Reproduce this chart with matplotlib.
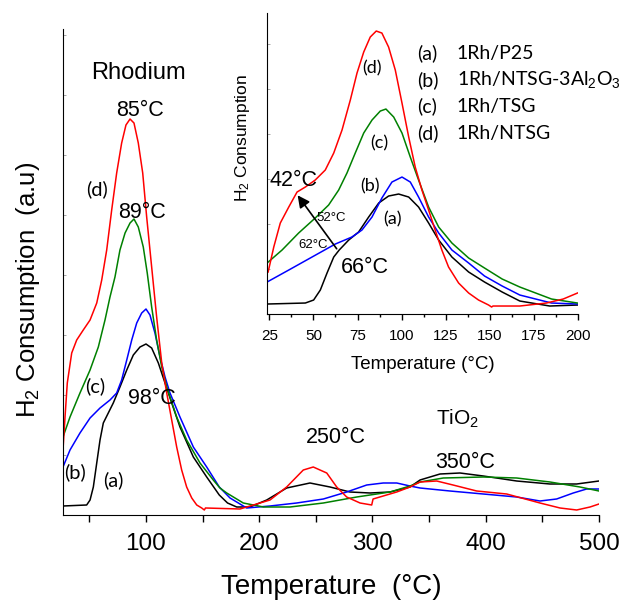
import numpy as np
import matplotlib
matplotlib.use("Agg")
import matplotlib.pyplot as plt

plt.rcParams['font.family'] = ['Liberation Sans', 'DejaVu Sans']
plt.rcParams['mathtext.fontset'] = 'custom'
plt.rcParams['mathtext.rm'] = 'Liberation Sans'
plt.rcParams['mathtext.it'] = 'Liberation Sans:italic'

# ---- main TPR curves (temperature in C, signal in arbitrary units) ----
t_a = [26.7, 47.6, 50.6, 53.5, 56.5, 59.4, 62.3, 66.7, 71.1, 77.0, 83.0, 88.8, 94.7, 100,
       105.0, 110.9, 116.8, 122.7, 130.0, 141.8, 153.6, 164.7, 172.0, 180.1, 191.8, 206.6,
       224.2, 244.8, 262.5, 280.1, 297.8, 315.5, 333.1, 342.0, 359.6, 377.3, 397.8, 427.3,
       456.7, 480.3, 500]
y_a = [9, 10, 15, 28, 52, 75, 92, 102, 112, 128, 145, 160, 168, 171,
       167, 152, 132, 112, 88, 58, 38, 20, 12, 8, 8, 15,
       27, 32, 28, 23, 22, 23, 28, 35, 41, 42, 39, 34,
       31, 31, 34]

t_b = [26.7, 32.9, 41.7, 50.6, 59.4, 68.2, 74.1, 78.5, 83.0, 87.4, 91.8, 96.2, 100, 103.5,
       107.9, 112.4, 116.8, 121.2, 130.0, 141.8, 153.6, 164.7, 174.2, 188.9, 209.5, 233.1,
       256.6, 277.2, 294.9, 309.5, 321.4, 333.1, 342.0, 368.4, 397.8, 427.3, 447.9, 462.6,
       477.3, 489.1, 500]
y_b = [48, 65, 82, 97, 107, 115, 122, 135, 155, 175, 192, 202, 206, 200,
       182, 158, 138, 122, 98, 68, 48, 28, 17, 7, 9, 12,
       16, 23, 30, 32, 32, 29, 27, 24, 21, 18, 14, 16,
       22, 26, 26]

t_c = [26.7, 32.9, 41.7, 50.6, 57.9, 63.8, 68.2, 72.6, 77.0, 81.5, 85.9, 89.4, 93.2, 97.6,
       101.1, 105.0, 109.4, 113.9, 118.3, 127.1, 135.9, 147.7, 159.4, 165.3, 171.3, 185.9,
       203.6, 227.2, 256.6, 286.1, 315.5, 333.1, 342.0, 362.5, 397.8, 427.3, 456.7, 483.2, 500]
y_c = [78, 98, 122, 145, 168, 195, 218, 238, 265, 282, 292, 296, 288, 268,
       242, 208, 175, 148, 128, 98, 75, 52, 35, 27, 22, 12,
       8, 8, 12, 18, 23, 29, 33, 37, 38, 37, 33, 28, 24]

t_d = [26.7, 28.5, 30.5, 34.4, 38.8, 44.6, 50.6, 56.5, 60.9, 65.3, 69.7, 74.1, 78.5, 82.3,
       85.9, 89.4, 93.2, 97.1, 100.6, 105.0, 109.4, 113.9, 118.3, 122.7, 127.1, 131.5, 135.9,
       140.4, 144.8, 149.2, 151.5, 152.5, 183.0, 209.5, 224.2, 238.9, 247.7, 259.6, 268.4,
       277.2, 289.0, 299.3, 300.5, 321.4, 333.1, 342.0, 356.7, 371.1, 392.0, 418.5, 447.9,
       465.6, 480.3, 492.1, 500]
y_d = [65, 98, 132, 162, 175, 185, 195, 212, 235, 265, 305, 342, 372, 390,
       396, 392, 372, 342, 298, 248, 198, 152, 122, 95, 68, 45, 28,
       17, 10, 7, 5, 7, 6, 15, 28, 45, 48, 42, 28,
       18, 12, 10, 16, 23, 28, 33, 34, 30, 24, 21, 12,
       7, 5, 8, 11]

# ---- inset (low-temperature zoom) ----
ti_a = [23.7, 45.4, 50.1, 53.9, 57.7, 61.5, 64.6, 70.0, 75.6, 81.3, 87.0, 92.6, 98.3, 104.0,
        109.6, 115.3, 121.0, 128.5, 138.0, 147.0, 157.0, 167.0, 184.0, 199.7]
yi_a = [10, 11, 14, 24, 41, 57, 64, 74, 82, 97, 111, 118, 120, 117,
        107, 91, 74, 57, 42, 32, 22, 13, 8, 9]

ti_b = [23.7, 36.0, 49.2, 62.4, 71.8, 77.5, 83.2, 88.8, 94.5, 100.2, 104.9, 109.6, 115.3,
        121.0, 128.5, 138.0, 147.0, 157.0, 167.0, 185.0, 199.7]
yi_b = [32, 44, 57, 70, 77, 84, 97, 116, 132, 137, 132, 117, 97,
        81, 64, 51, 38, 28, 19, 11, 10]

ti_c = [23.7, 32.2, 41.6, 51.0, 58.6, 64.3, 69.0, 73.7, 78.5, 83.2, 87.9, 91.1, 95.5, 100.2,
        104.9, 109.6, 115.3, 121.0, 128.5, 138.0, 147.0, 157.0, 167.0, 185.0, 199.7]
yi_c = [51, 64, 81, 96, 109, 124, 141, 161, 181, 194, 203, 205, 197, 181,
        157, 134, 107, 87, 71, 56, 46, 35, 27, 15, 11]

ti_d = [24.3, 27.5, 31.2, 36.0, 40.7, 45.4, 51.0, 56.7, 61.5, 66.2, 70.9, 74.7, 78.5, 82.2,
        85.6, 88.8, 92.6, 96.4, 100.2, 104.0, 107.7, 111.5, 115.3, 119.0, 122.8, 126.6,
        132.3, 138.0, 143.6, 149.3, 151.0, 151.8, 167.0, 182.1, 191.6, 199.7]
yi_d = [42, 67, 91, 107, 122, 127, 134, 144, 161, 184, 214, 241, 262, 277,
        283, 281, 267, 244, 211, 177, 147, 124, 104, 84, 64, 47,
        31, 21, 14, 9, 7, 8, 8, 11, 15, 21]

colors = {'a': 'black', 'b': '#0000ff', 'c': '#008000', 'd': '#ff0000'}
legend_names = ['1Rh/P25', '1Rh/NTSG-3Al$_2$O$_3$', '1Rh/TSG', '1Rh/NTSG']

fig = plt.figure(figsize=(6.28, 6.01), dpi=100)
ax = fig.add_axes([0.1003, 0.1431, 0.8535, 0.8086])

for t, y, k in [(t_a, y_a, 'a'), (t_b, y_b, 'b'), (t_c, y_c, 'c'), (t_d, y_d, 'd')]:
    ax.plot(t, y, color=colors[k], lw=1.1)

ax.set_xlim(26.7, 500)
ax.set_ylim(0, 486)
ax.spines['top'].set_visible(False)
ax.spines['right'].set_visible(False)
ax.set_xticks([100, 200, 300, 400, 500])
ax.set_xticks([50, 150, 250, 350, 450], minor=True)
ax.tick_params(axis='x', which='both', direction='out', length=5, width=1, labelsize=17.5, pad=8)
ax.set_yticks(np.arange(0, 486, 60))
ax.tick_params(axis='y', direction='in', length=2, width=0.6, colors='#999999', labelleft=False)
ax.set_xlabel('Temperature  (°C)', fontsize=20, labelpad=14)
ax.set_ylabel('H$_2$ Consumption  (a.u)', fontsize=18.5)
ax.yaxis.set_label_coords(-0.039, 0.463)

lab_font = ['Lato', 'DejaVu Sans']
ax.text(92.9, 442, 'Rhodium', fontsize=17, ha='center', va='center')
ax.text(94.7, 405, '85°C', fontsize=15.5, ha='center', va='center')
ax.text(96.5, 303, '89°C', fontsize=15.5, ha='center', va='center')
ax.text(105.3, 117, '98°C', fontsize=15.5, ha='center', va='center')
ax.text(267.8, 78, '250°C', fontsize=15.5, ha='center', va='center')
ax.text(375.5, 96, 'TiO$_2$', fontsize=15, ha='center', va='center')
ax.text(381.7, 53, '350°C', fontsize=15.5, ha='center', va='center')
ax.text(56.7, 326, '(d)', fontsize=14.5, ha='center', va='center', family=lab_font)
ax.text(55, 129, '(c)', fontsize=14.5, ha='center', va='center', family=lab_font)
ax.text(37.3, 43, '(b)', fontsize=14.5, ha='center', va='center', family=lab_font)
ax.text(70.9, 35, '(a)', fontsize=14.5, ha='center', va='center', family=lab_font)

# ---- inset ----
ins = fig.add_axes([0.4247, 0.4775, 0.4957, 0.5008])
ins.patch.set_alpha(0)
for t, y, k in [(ti_a, yi_a, 'a'), (ti_b, yi_b, 'b'), (ti_c, yi_c, 'c'), (ti_d, yi_d, 'd')]:
    ins.plot(t, y, color=colors[k], lw=1.1)
ins.set_xlim(23.5, 200)
ins.set_ylim(0, 301)
ins.spines['top'].set_visible(False)
ins.spines['right'].set_visible(False)
ins.set_xticks([25, 50, 75, 100, 125, 150, 175, 200])
ins.set_xticks(np.arange(37.5, 200, 25), minor=True)
ins.tick_params(axis='x', which='major', direction='out', length=4, width=1, labelsize=11, pad=6.5)
ins.tick_params(axis='x', which='minor', direction='out', length=2.5, width=1)
ins.set_yticks(np.arange(0, 301, 45))
ins.tick_params(axis='y', direction='in', length=2, width=0.6, colors='#999999', labelleft=False)
ins.set_xlabel('Temperature (°C)', fontsize=13.5, labelpad=9.5)
ins.set_ylabel('H$_2$ Consumption', fontsize=12.5)
ins.yaxis.set_label_coords(-0.047, 0.585)

ins.text(83.0, 246, '(d)', fontsize=13, ha='center', va='center', family=lab_font)
ins.text(87.3, 171, '(c)', fontsize=13, ha='center', va='center', family=lab_font)
ins.text(82.0, 128, '(b)', fontsize=13, ha='center', va='center', family=lab_font)
ins.text(94.9, 95, '(a)', fontsize=13, ha='center', va='center', family=lab_font)
ins.text(38.6, 134, '42°C', fontsize=15.5, ha='center', va='center')
ins.text(79.2, 47, '66°C', fontsize=15.5, ha='center', va='center')
ins.text(60.3, 96, '52°C', fontsize=9.5, ha='center', va='center')
ins.text(49.9, 69, '62°C', fontsize=9.5, ha='center', va='center')
ins.annotate('', xy=(40.1, 121), xytext=(64.1, 63),
             arrowprops=dict(arrowstyle='-|>', color='black', lw=1.2, mutation_scale=18))

for i, (k, name) in enumerate(zip('abcd', legend_names)):
    yy = 261 - i * 26.7
    ins.text(108.5, yy, f'({k})', fontsize=14, ha='left', va='center', family=lab_font)
    ins.text(131.2, yy, name, fontsize=14, ha='left', va='center', family=lab_font)

fig.savefig('out.png', dpi=100)
